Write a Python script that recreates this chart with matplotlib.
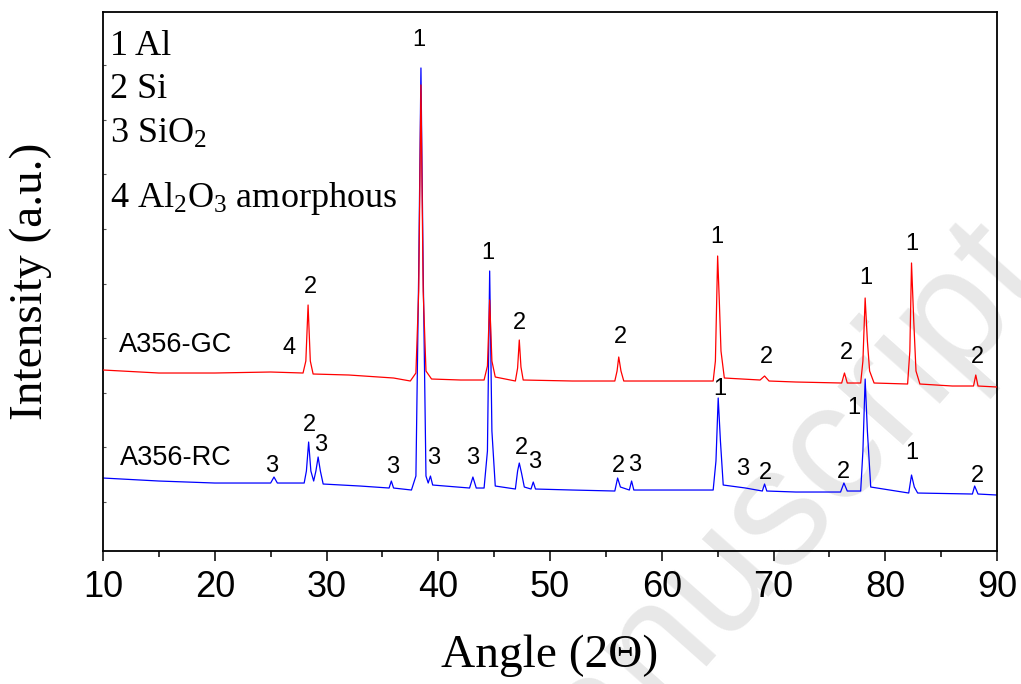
import numpy as np
import matplotlib
matplotlib.use("Agg")
import matplotlib.pyplot as plt
import matplotlib.ticker as mtick

plt.rcParams['mathtext.fontset'] = 'custom'
plt.rcParams['mathtext.rm'] = 'Liberation Serif'
plt.rcParams['mathtext.it'] = 'Liberation Serif:italic'

# XRD traces (angle in degrees, intensity in a.u., stacked offsets)
gc_angle = [10, 15, 20, 25, 27.9, 28.15, 28.35, 28.55, 28.8, 32, 36, 37.5, 38.0, 38.25, 38.45,
            38.65, 38.9, 39.4, 42, 44.1, 44.4, 44.6, 44.8, 45.1, 46.9, 47.1, 47.25, 47.4, 47.6,
            52, 55.8, 56.0, 56.15, 56.35, 56.6, 60, 64.6, 64.8, 65.0, 65.15, 65.3, 65.6, 68.8,
            69.2, 69.6, 72, 76.1, 76.35, 76.6, 77.8, 78.0, 78.2, 78.4, 78.6, 79.0, 82.0, 82.2,
            82.35, 82.55, 82.75, 83.1, 86, 87.9, 88.1, 88.3, 90]
gc_int = [181, 178, 178, 179, 178, 190, 246, 190, 177, 176, 173, 170, 178, 260, 466,
          260, 180, 172, 171, 171, 185, 251, 190, 174, 170, 183, 211, 184, 171,
          170, 170, 180, 194, 180, 170, 170, 170, 190, 295, 250, 200, 173, 171,
          175, 170, 169, 168, 178, 168, 168, 190, 253, 210, 180, 168, 167, 200,
          288, 230, 180, 167, 165, 165, 176, 165, 164]

rc_angle = [10, 15, 20, 25.0, 25.3, 25.6, 28.0, 28.2, 28.4, 28.6, 28.85, 29.05, 29.25, 29.45,
            29.7, 33, 35.6, 35.8, 36.0, 37.6, 38.0, 38.25, 38.45, 38.65, 38.9, 39.1, 39.3, 39.5,
            42.8, 43.1, 43.4, 44.1, 44.4, 44.6, 44.8, 45.1, 46.9, 47.1, 47.25, 47.45, 47.7,
            48.3, 48.5, 48.7, 52, 55.8, 56.05, 56.3, 57.1, 57.3, 57.5, 60, 64.6, 64.85, 65.05,
            65.25, 65.5, 67.5, 69.0, 69.2, 69.4, 72, 76.0, 76.3, 76.6, 77.8, 78.0, 78.2, 78.4,
            78.7, 82.1, 82.35, 82.6, 82.9, 87.8, 88.0, 88.3, 90]
rc_int = [73, 70, 68, 68, 74, 68, 68, 80, 109, 80, 70, 80, 94, 80,
          67, 65, 63, 70, 63, 61, 75, 280, 483, 280, 75, 68, 75, 66,
          63, 74, 63, 63, 100, 280, 120, 65, 62, 80, 88, 78, 64,
          62, 69, 62, 61, 60, 73, 64, 61, 70, 61, 61, 61, 90, 153,
          110, 66, 63, 60, 67, 60, 59, 59, 68, 60, 60, 100, 172, 120,
          64, 58, 76, 64, 58, 57, 65, 57, 56]

# phase labels: (text, angle, height)
gc_marks = [("1", 38.28, 511), ("2", 28.52, 264), ("4", 26.64, 203), ("1", 44.45, 298),
            ("2", 47.23, 228), ("2", 56.26, 214), ("1", 64.94, 314), ("2", 69.33, 194),
            ("2", 76.49, 198), ("1", 78.28, 273), ("1", 82.39, 307), ("2", 88.21, 194)]
rc_marks = [("3", 25.12, 85), ("2", 28.43, 126), ("3", 29.51, 106), ("3", 35.95, 84),
            ("3", 39.62, 93), ("3", 43.11, 93), ("2", 47.40, 103), ("3", 48.66, 89),
            ("2", 56.09, 85), ("3", 57.61, 86), ("1", 65.21, 162), ("3", 67.27, 82),
            ("2", 69.24, 78), ("2", 76.22, 79), ("1", 77.20, 143), ("1", 82.39, 98),
            ("2", 88.21, 75)]

phase_lines = ["1 Al", "2 Si", "3 SiO$_2$", "4 Al$_2$O$_3$ amorphous"]
phase_baseline = [496, 453, 408, 344]

fig = plt.figure(figsize=(10.21, 6.84), dpi=100)
ax = fig.add_axes([0.1009, 0.1944, 0.8756, 0.7881])

# watermark behind everything
ax.text(1.028, 0.59, "Accepted manuscript", transform=fig.transFigure,
        rotation=48.4, rotation_mode="anchor", ha="right", va="baseline",
        fontsize=120, family="Liberation Sans", color="#e8e8e8", zorder=0, clip_on=False)

ax.plot(rc_angle, rc_int, color="#0000ff", linewidth=0.9, zorder=2)
ax.plot(gc_angle, gc_int, color="#ff0000", linewidth=0.9, zorder=3)

for t, x, y in gc_marks + rc_marks:
    ax.text(x, y, t, ha="center", va="center", fontsize=17, family="Liberation Sans", zorder=4)

ax.text(11.43, 206, "A356-GC", ha="left", va="center", fontsize=19.5, family="Liberation Sans")
ax.text(11.52, 93, "A356-RC", ha="left", va="center", fontsize=19.5, family="Liberation Sans")

for t, y in zip(phase_lines, phase_baseline):
    ax.text(10.6, y, t, ha="left", va="baseline", fontsize=26, family="Liberation Serif")

ax.set_xlim(10, 90)
ax.set_ylim(0, 539)
ax.xaxis.set_major_locator(mtick.MultipleLocator(10))
ax.xaxis.set_minor_locator(mtick.MultipleLocator(5))
ax.set_yticks(np.arange(49.5, 539, 54.5))
ax.tick_params(axis="x", which="major", direction="out", length=7, width=1.1, pad=7,
               labelsize=26)
ax.tick_params(axis="x", which="minor", direction="out", length=4, width=1.1)
ax.tick_params(axis="y", which="major", direction="in", length=2.5, width=0.8,
               labelleft=False, color="#555555")
for lab in ax.get_xticklabels():
    lab.set_family("Liberation Sans")
for s in ax.spines.values():
    s.set_linewidth(1.3)

ax.set_xlabel("Angle (2\u0398)", family="Liberation Serif", fontsize=34)
ax.xaxis.set_label_coords(0.5, -0.155)
ax.set_ylabel("Intensity (a.u.)", family="Liberation Serif", fontsize=34)
ax.yaxis.set_label_coords(-0.057, 0.5)

fig.savefig("out.png", dpi=100)
